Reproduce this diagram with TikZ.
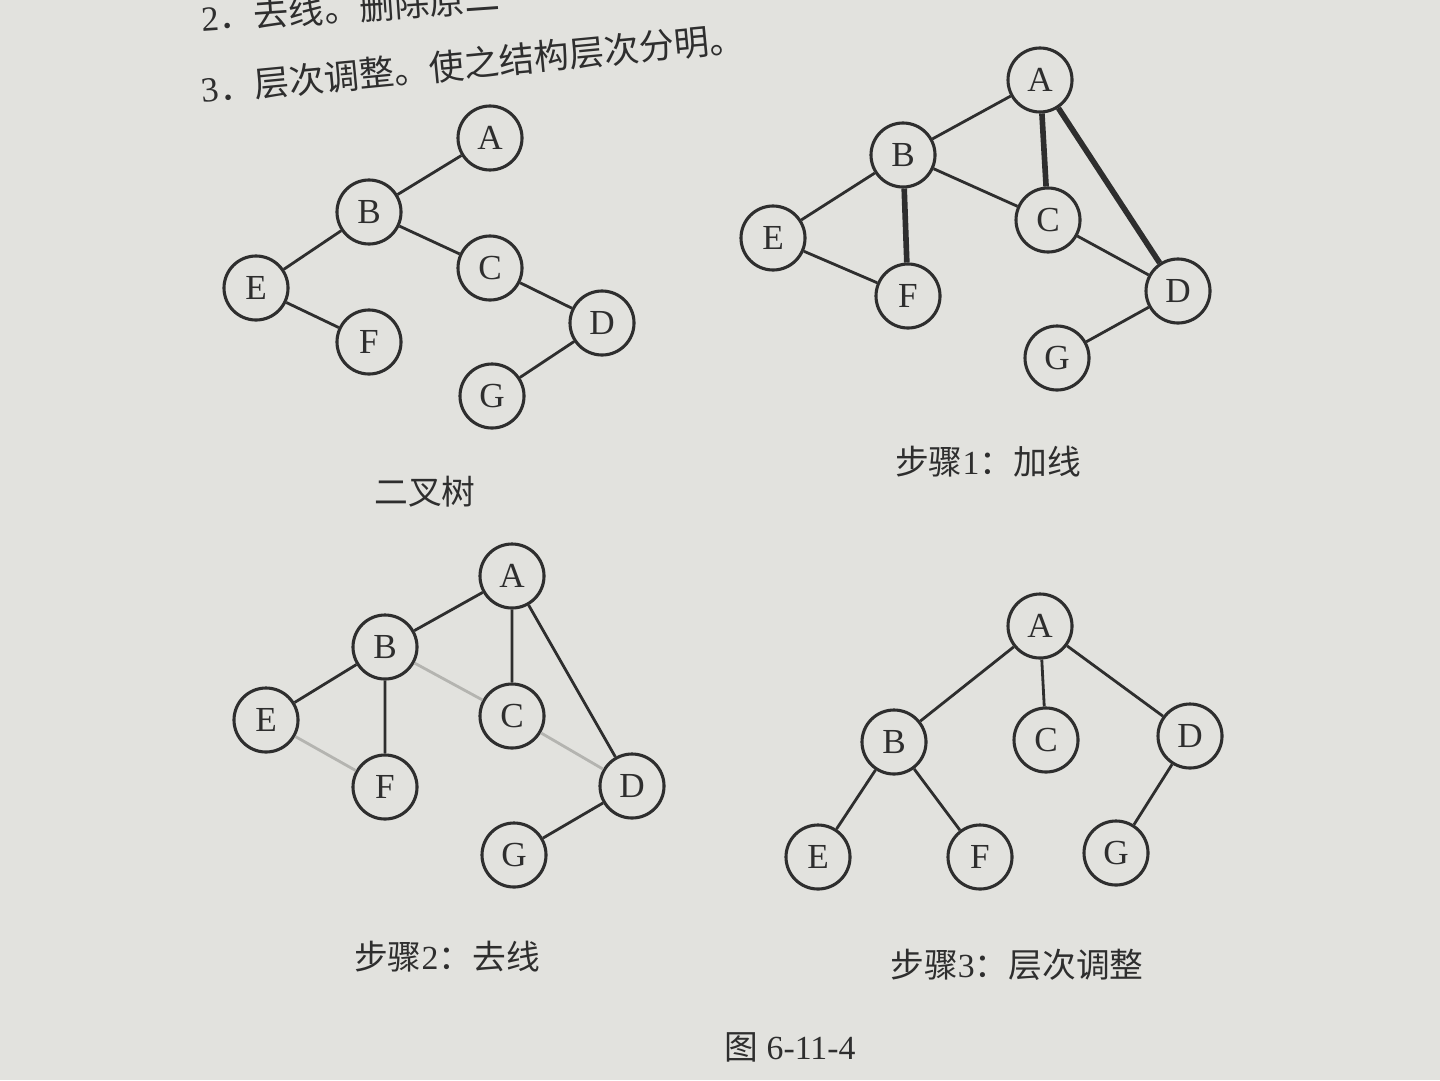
\documentclass[tikz,border=0pt]{standalone}
\usepackage{fontspec}
\setmainfont{Liberation Serif}
\newfontfamily\cjk{Noto Sans CJK SC}
\definecolor{paper}{HTML}{E2E2DE}
\definecolor{ink}{HTML}{2E2E2E}
\definecolor{faint}{HTML}{B4B4B0}
\tikzset{
  vtx/.style={circle,draw=ink,line width=1.1pt,minimum size=0.8cm,inner sep=0pt,font=\fontsize{12.5}{14}\selectfont,text=ink},
  edge/.style={draw=ink,line width=1pt},
  thick edge/.style={draw=ink,line width=2pt},
  light edge/.style={draw=faint,line width=1pt},
  caption/.style={text=ink,font=\fontsize{12}{14}\selectfont},
  topline/.style={anchor=west,text=ink,font=\fontsize{12.5}{14}\selectfont,inner sep=1pt}
}
\begin{document}
\begin{tikzpicture}[x=0.0125cm,y=-0.0125cm]
\useasboundingbox (0,0) rectangle (1440,1080);
\fill[paper] (0,0) rectangle (1440,1080);
\begin{scope}
\clip (0,0) rectangle (1440,1080);
\node[topline,rotate=4] (l2) at (198,18) {2{\cjk ．去线。删除原二}};
\node[topline,rotate=5.5] (l3) at (198,90) {3{\cjk ．层次调整。使之结构层次分明。}};
\end{scope}
% tree 0
\node[vtx] (A0) at (490,138) {A};
\node[vtx] (B0) at (369,212) {B};
\node[vtx] (C0) at (490,268) {C};
\node[vtx] (E0) at (256,288) {E};
\node[vtx] (F0) at (369,342) {F};
\node[vtx] (D0) at (602,323) {D};
\node[vtx] (G0) at (492,396) {G};
\draw[edge] (A0)--(B0) (B0)--(E0) (E0)--(F0) (B0)--(C0) (C0)--(D0) (D0)--(G0);
\node[caption] (cap0) at (425,492) {\cjk 二叉树};
% step 1
\node[vtx] (A1) at (1040,80) {A};
\node[vtx] (B1) at (903,155) {B};
\node[vtx] (C1) at (1048,220) {C};
\node[vtx] (E1) at (773,238) {E};
\node[vtx] (F1) at (908,296) {F};
\node[vtx] (D1) at (1178,291) {D};
\node[vtx] (G1) at (1057,358) {G};
\draw[edge] (A1)--(B1) (B1)--(E1) (E1)--(F1) (B1)--(C1) (C1)--(D1) (D1)--(G1);
\draw[thick edge] (B1)--(F1) (A1)--(C1) (A1)--(D1);
\node[caption] (cap1) at (988,462) {{\cjk 步骤}1{\cjk ：加线}};
% step 2
\node[vtx] (A2) at (512,576) {A};
\node[vtx] (B2) at (385,647) {B};
\node[vtx] (C2) at (512,716) {C};
\node[vtx] (E2) at (266,720) {E};
\node[vtx] (F2) at (385,787) {F};
\node[vtx] (D2) at (632,786) {D};
\node[vtx] (G2) at (514,855) {G};
\draw[edge] (A2)--(B2) (A2)--(C2) (A2)--(D2) (B2)--(E2) (B2)--(F2) (D2)--(G2);
\draw[light edge] (B2)--(C2) (E2)--(F2) (C2)--(D2);
\node[caption] (cap2) at (447,957) {{\cjk 步骤}2{\cjk ：去线}};
% step 3
\node[vtx] (A3) at (1040,626) {A};
\node[vtx] (B3) at (894,742) {B};
\node[vtx] (C3) at (1046,740) {C};
\node[vtx] (D3) at (1190,736) {D};
\node[vtx] (E3) at (818,857) {E};
\node[vtx] (F3) at (980,857) {F};
\node[vtx] (G3) at (1116,853) {G};
\draw[edge] (A3)--(B3) (A3)--(C3) (A3)--(D3) (B3)--(E3) (B3)--(F3) (D3)--(G3);
\node[caption] (cap3) at (1017,965) {{\cjk 步骤}3{\cjk ：层次调整}};
\node[caption] (fig) at (790,1047) {{\cjk 图} 6-11-4};
\end{tikzpicture}
\end{document}
